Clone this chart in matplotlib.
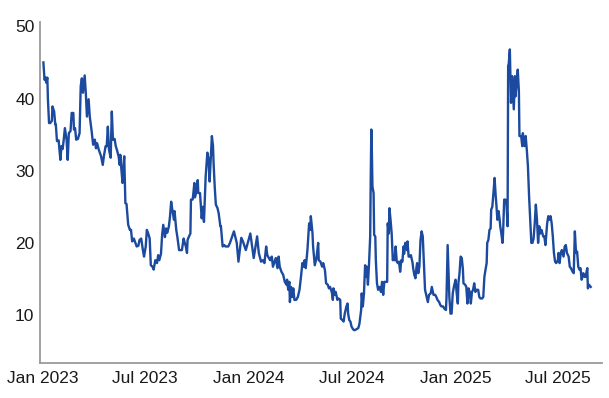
import matplotlib
matplotlib.use("Agg")
import matplotlib.pyplot as plt
import matplotlib.dates as mdates
import pandas as pd

plt.rcParams['font.family'] = ['Liberation Sans', 'DejaVu Sans']

# ---- data ----
dates_2023 = [
    '2023-01-03', '2023-01-05', '2023-01-07', '2023-01-08', '2023-01-10', '2023-01-11', '2023-01-13',
    '2023-01-15', '2023-01-18', '2023-01-19', '2023-01-22', '2023-01-24', '2023-01-25', '2023-01-27',
    '2023-01-30', '2023-02-02', '2023-02-04', '2023-02-06', '2023-02-08', '2023-02-10', '2023-02-13',
    '2023-02-15', '2023-02-17', '2023-02-20', '2023-02-22', '2023-02-25', '2023-02-26', '2023-02-28',
    '2023-03-02', '2023-03-05', '2023-03-08', '2023-03-10', '2023-03-12', '2023-03-14', '2023-03-17',
    '2023-03-19', '2023-03-21', '2023-03-24', '2023-03-26', '2023-03-29', '2023-04-01', '2023-04-04',
    '2023-04-06', '2023-04-08', '2023-04-11', '2023-04-15', '2023-04-18', '2023-04-20', '2023-04-23',
    '2023-04-25', '2023-04-27', '2023-04-29', '2023-05-02', '2023-05-04', '2023-05-06', '2023-05-09',
    '2023-05-11', '2023-05-13', '2023-05-16', '2023-05-18', '2023-05-19', '2023-05-21', '2023-05-23',
    '2023-05-25', '2023-05-26', '2023-05-28', '2023-05-30', '2023-06-02', '2023-06-05', '2023-06-07',
    '2023-06-09', '2023-06-12', '2023-06-17', '2023-06-20', '2023-06-22', '2023-06-25', '2023-06-28',
    '2023-06-30', '2023-07-03', '2023-07-05', '2023-07-07', '2023-07-10', '2023-07-12', '2023-07-15',
    '2023-07-17', '2023-07-20', '2023-07-23', '2023-07-25', '2023-07-27', '2023-07-30', '2023-08-01',
    '2023-08-03', '2023-08-06', '2023-08-08', '2023-08-10', '2023-08-13', '2023-08-15', '2023-08-17',
    '2023-08-19', '2023-08-22', '2023-08-23', '2023-08-26', '2023-08-28', '2023-08-31', '2023-09-02',
    '2023-09-05', '2023-09-08', '2023-09-10', '2023-09-12', '2023-09-14', '2023-09-15', '2023-09-17',
    '2023-09-20', '2023-09-21', '2023-09-24', '2023-09-25', '2023-09-27', '2023-09-28', '2023-10-01',
    '2023-10-03', '2023-10-04', '2023-10-07', '2023-10-08', '2023-10-10', '2023-10-12', '2023-10-14',
    '2023-10-16', '2023-10-17', '2023-10-20', '2023-10-22', '2023-10-24', '2023-10-26', '2023-10-28',
    '2023-10-30', '2023-10-31', '2023-11-02', '2023-11-04', '2023-11-07', '2023-11-09', '2023-11-12',
    '2023-11-13', '2023-11-16', '2023-11-19', '2023-11-21', '2023-11-23', '2023-11-26', '2023-11-29',
    '2023-12-06', '2023-12-11', '2023-12-14', '2023-12-19', '2023-12-22', '2023-12-27',
]
values_2023 = [
    45.0, 42.6, 42.9, 42.2, 42.9, 39.9, 36.6,
    36.6, 36.9, 38.9, 38.2, 36.4, 36.4, 34.1,
    34.2, 31.5, 33.4, 33.0, 34.3, 35.9, 34.3,
    31.5, 35.2, 35.5, 38.0, 38.0, 35.7, 35.9,
    34.3, 34.4, 35.2, 41.7, 42.8, 40.8, 43.2,
    40.8, 37.5, 39.9, 37.5, 35.7, 33.6, 34.3,
    33.1, 33.8, 32.9, 32.0, 30.8, 32.0, 33.4,
    33.4, 36.1, 32.9, 31.8, 38.2, 34.3, 34.4,
    33.4, 32.9, 32.0, 30.8, 32.2, 30.1, 28.3,
    31.1, 32.0, 25.5, 25.4, 22.5, 21.8, 21.8,
    20.2, 20.6, 19.5, 19.6, 20.4, 20.6, 19.0,
    18.1, 19.5, 21.8, 21.4, 20.6, 16.9, 16.7,
    16.3, 17.6, 17.2, 18.3, 17.6, 18.5, 21.1,
    22.5, 20.8, 22.0, 21.4, 22.3, 23.7, 25.7,
    24.6, 23.2, 24.4, 21.8, 20.8, 19.0, 19.0,
    19.0, 20.6, 20.0, 19.5, 18.6, 20.4, 20.8,
    21.3, 26.0, 26.0, 26.7, 28.3, 26.3, 27.2,
    28.7, 26.9, 26.9, 25.7, 23.4, 25.0, 22.9,
    26.9, 29.2, 32.5, 31.7, 28.5, 31.7, 34.8,
    33.4, 31.1, 27.8, 25.3, 24.8, 24.1, 22.3,
    22.3, 19.5, 19.7, 19.5, 19.5, 19.5, 20.0,
    21.6, 20.0, 17.4, 20.7, 20.2, 19.0,
]

dates_2024 = [
    '2024-01-04', '2024-01-08', '2024-01-10', '2024-01-16', '2024-01-19', '2024-01-23', '2024-01-26',
    '2024-01-29', '2024-02-01', '2024-02-03', '2024-02-08', '2024-02-11', '2024-02-13', '2024-02-18',
    '2024-02-21', '2024-02-23', '2024-02-25', '2024-02-28', '2024-03-02', '2024-03-05', '2024-03-08',
    '2024-03-09', '2024-03-11', '2024-03-13', '2024-03-14', '2024-03-16', '2024-03-18', '2024-03-20',
    '2024-03-22', '2024-03-25', '2024-03-28', '2024-03-31', '2024-04-03', '2024-04-05', '2024-04-07',
    '2024-04-09', '2024-04-11', '2024-04-14', '2024-04-17', '2024-04-19', '2024-04-20', '2024-04-23',
    '2024-04-24', '2024-04-27', '2024-04-30', '2024-05-03', '2024-05-04', '2024-05-07', '2024-05-10',
    '2024-05-12', '2024-05-15', '2024-05-17', '2024-05-20', '2024-05-22', '2024-05-24', '2024-05-27',
    '2024-05-29', '2024-05-30', '2024-06-02', '2024-06-03', '2024-06-06', '2024-06-08', '2024-06-11',
    '2024-06-12', '2024-06-15', '2024-06-17', '2024-06-19', '2024-06-22', '2024-06-24', '2024-06-25',
    '2024-06-27', '2024-06-29', '2024-07-01', '2024-07-04', '2024-07-06', '2024-07-09', '2024-07-13',
    '2024-07-15', '2024-07-18', '2024-07-19', '2024-07-21', '2024-07-23', '2024-07-25', '2024-07-27',
    '2024-07-28', '2024-07-30', '2024-08-01', '2024-08-03', '2024-08-04', '2024-08-05', '2024-08-06',
    '2024-08-07', '2024-08-09', '2024-08-10', '2024-08-12', '2024-08-13', '2024-08-15', '2024-08-17',
    '2024-08-20', '2024-08-22', '2024-08-24', '2024-08-26', '2024-08-28', '2024-08-31', '2024-09-02',
    '2024-09-03', '2024-09-05', '2024-09-06', '2024-09-08', '2024-09-10', '2024-09-12', '2024-09-14',
    '2024-09-15', '2024-09-17', '2024-09-19', '2024-09-21', '2024-09-23', '2024-09-25', '2024-09-27',
    '2024-09-29', '2024-10-01', '2024-10-02', '2024-10-04', '2024-10-07', '2024-10-08', '2024-10-10',
    '2024-10-12', '2024-10-14', '2024-10-17', '2024-10-18', '2024-10-20', '2024-10-22', '2024-10-24',
    '2024-10-25', '2024-10-27', '2024-10-29', '2024-10-31', '2024-11-02', '2024-11-04', '2024-11-06',
    '2024-11-08', '2024-11-11', '2024-11-13', '2024-11-15', '2024-11-18', '2024-11-20', '2024-11-23',
    '2024-11-26', '2024-11-28', '2024-11-30', '2024-12-03', '2024-12-05', '2024-12-07', '2024-12-10',
    '2024-12-12', '2024-12-15', '2024-12-16', '2024-12-18', '2024-12-19', '2024-12-21', '2024-12-23',
    '2024-12-25', '2024-12-27', '2024-12-29',
]
values_2024 = [
    21.3, 19.0, 17.9, 20.9, 18.6, 17.4, 17.6,
    17.2, 19.5, 18.3, 17.6, 18.1, 16.7, 17.9,
    16.5, 18.1, 16.7, 16.0, 15.6, 14.6, 14.2,
    14.9, 13.5, 14.6, 11.8, 13.9, 12.5, 13.7,
    12.1, 12.1, 12.5, 13.5, 15.6, 17.2, 16.7,
    17.6, 16.5, 19.0, 22.7, 21.8, 23.7, 21.3,
    19.5, 16.9, 17.9, 20.0, 17.6, 17.4, 16.7,
    17.2, 16.2, 14.4, 14.2, 13.7, 13.9, 13.2,
    12.1, 13.7, 12.8, 13.2, 12.1, 12.3, 12.1,
    9.5, 9.3, 9.1, 10.2, 11.2, 11.6, 10.2,
    9.3, 9.1, 8.4, 8.0, 7.9, 8.0, 8.2,
    8.8, 10.7, 13.0, 11.2, 13.0, 16.9, 15.3,
    16.7, 14.2, 17.2, 20.9, 29.2, 35.7, 32.5,
    27.8, 26.9, 21.1, 20.9, 17.6, 14.4, 13.5,
    13.9, 13.2, 14.6, 12.8, 14.6, 14.6, 14.6,
    22.7, 21.3, 24.8, 23.2, 21.3, 17.6, 18.1,
    17.6, 19.5, 17.4, 17.2, 17.4, 16.0, 17.6,
    17.4, 19.5, 18.5, 20.0, 19.0, 20.2, 18.1,
    18.1, 18.3, 17.2, 16.5, 15.6, 15.1, 16.7,
    17.2, 15.8, 16.7, 20.4, 21.6, 20.9, 17.2,
    13.5, 12.5, 11.8, 12.8, 13.0, 13.9, 12.8,
    12.8, 12.5, 12.1, 11.8, 11.4, 11.2, 11.2,
    10.9, 10.7, 12.5, 19.7, 17.2, 12.5, 10.2,
    10.2, 13.0, 13.9,
]

dates_2025 = [
    '2025-01-01', '2025-01-03', '2025-01-05', '2025-01-06', '2025-01-08', '2025-01-10', '2025-01-12',
    '2025-01-14', '2025-01-15', '2025-01-18', '2025-01-20', '2025-01-22', '2025-01-24', '2025-01-26',
    '2025-01-28', '2025-01-30', '2025-02-01', '2025-02-03', '2025-02-05', '2025-02-07', '2025-02-10',
    '2025-02-12', '2025-02-14', '2025-02-17', '2025-02-19', '2025-02-21', '2025-02-23', '2025-02-25',
    '2025-02-26', '2025-02-28', '2025-03-02', '2025-03-04', '2025-03-05', '2025-03-07', '2025-03-09',
    '2025-03-11', '2025-03-13', '2025-03-14', '2025-03-16', '2025-03-18', '2025-03-20', '2025-03-21',
    '2025-03-23', '2025-03-25', '2025-03-26', '2025-03-28', '2025-03-30', '2025-04-01', '2025-04-03',
    '2025-04-04', '2025-04-05', '2025-04-07', '2025-04-09', '2025-04-11', '2025-04-14', '2025-04-16',
    '2025-04-17', '2025-04-19', '2025-04-21', '2025-04-23', '2025-04-24', '2025-04-27', '2025-04-29',
    '2025-04-30', '2025-05-03', '2025-05-05', '2025-05-07', '2025-05-09', '2025-05-11', '2025-05-13',
    '2025-05-15', '2025-05-17', '2025-05-19', '2025-05-21', '2025-05-23', '2025-05-25', '2025-05-27',
    '2025-05-29', '2025-05-31', '2025-06-02', '2025-06-05', '2025-06-07', '2025-06-09', '2025-06-12',
    '2025-06-14', '2025-06-16', '2025-06-18', '2025-06-20', '2025-06-22', '2025-06-24', '2025-06-26',
    '2025-06-28', '2025-07-01', '2025-07-02', '2025-07-04', '2025-07-06', '2025-07-08', '2025-07-11',
    '2025-07-13', '2025-07-15', '2025-07-17', '2025-07-20', '2025-07-22', '2025-07-24', '2025-07-27',
    '2025-07-29', '2025-07-31', '2025-08-02', '2025-08-04', '2025-08-06', '2025-08-08', '2025-08-10',
    '2025-08-12', '2025-08-15', '2025-08-17', '2025-08-19', '2025-08-22', '2025-08-23', '2025-08-25',
    '2025-08-28',
]
values_2025 = [
    14.9, 13.0, 11.6, 14.4, 15.8, 18.1, 17.9,
    16.3, 14.4, 14.2, 13.9, 11.6, 13.7, 13.2,
    11.6, 13.2, 13.5, 14.4, 13.2, 13.5, 13.5,
    12.5, 12.3, 12.3, 12.5, 15.3, 16.3, 17.2,
    20.0, 20.4, 21.8, 22.0, 24.6, 25.0, 26.9,
    29.0, 26.5, 25.5, 23.2, 24.4, 23.2, 22.3,
    21.3, 20.0, 21.3, 26.0, 26.0, 25.5, 22.3,
    44.5, 44.8, 46.8, 39.4, 43.1, 38.5, 43.1,
    40.3, 42.0, 44.0, 41.0, 34.8, 34.8, 33.4,
    35.2, 33.4, 34.8, 32.9, 30.6, 26.5, 23.2,
    20.0, 20.0, 20.6, 22.7, 25.3, 23.2, 20.0,
    22.3, 21.3, 21.8, 20.9, 20.9, 19.7, 22.7,
    23.7, 23.2, 23.7, 22.7, 20.9, 18.6, 17.4,
    17.2, 17.6, 18.6, 17.2, 18.6, 19.0, 18.1,
    19.5, 19.7, 18.6, 18.1, 16.7, 16.5, 16.0,
    15.8, 21.6, 18.6, 18.8, 16.7, 16.3, 16.5,
    14.9, 15.8, 15.3, 15.3, 16.5, 13.7, 14.2,
    13.9,
]

y_ticks = [10, 20, 30, 40, 50]

dates = pd.to_datetime(dates_2023 + dates_2024 + dates_2025)
values = values_2023 + values_2024 + values_2025

fig = plt.figure(figsize=(6.09, 3.98), dpi=100)
ax = fig.add_axes([40 / 609, 1 - 362.7 / 398, (602 - 40) / 609, (362.7 - 22) / 398])

ax.plot(dates, values, color='#1b4a9e', lw=1.7, solid_joinstyle='round')

ax.set_ylim(3.4, 50.6)
ax.set_yticks(y_ticks)
ax.set_xlim(pd.Timestamp('2022-12-28'), pd.Timestamp('2025-09-17'))
ax.xaxis.set_major_locator(mdates.MonthLocator(bymonth=[1, 7]))
ax.xaxis.set_major_formatter(mdates.DateFormatter('%b %Y'))

for s in ['top', 'right']:
    ax.spines[s].set_visible(False)
for s in ['left', 'bottom']:
    ax.spines[s].set_color('#9a9a9a')
    ax.spines[s].set_linewidth(1.3)

ax.tick_params(axis='both', length=0, labelsize=12.5, colors='#1a1a1a')
ax.tick_params(axis='y', pad=4)
ax.tick_params(axis='x', pad=6)

fig.savefig('out.png', dpi=100)
